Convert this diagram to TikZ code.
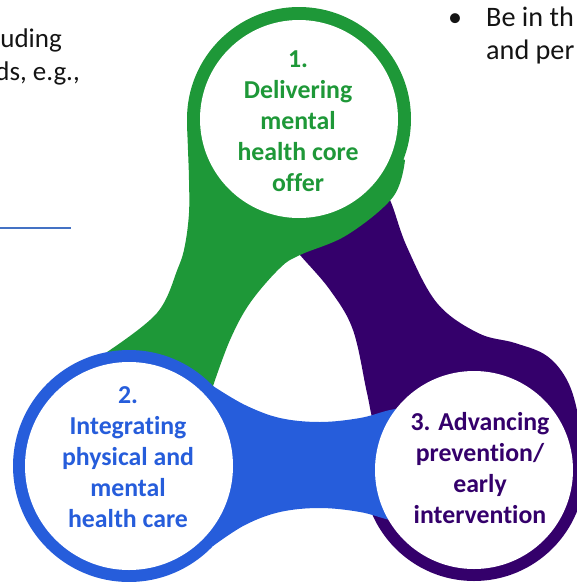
\documentclass[tikz,border=0pt]{standalone}
\usepackage{fontspec}
\setmainfont{Carlito}[Ligatures={NoCommon}]
\definecolor{cgreen}{RGB}{30,152,56}
\definecolor{cblue}{RGB}{38,93,219}
\definecolor{cpurple}{RGB}{52,0,107}
\definecolor{linkblue}{RGB}{68,114,196}
\definecolor{bodyink}{RGB}{20,20,20}
\begin{document}
\begin{tikzpicture}[x=1pt,y=-1pt,
  bodytext/.style={font=\fontsize{27}{33}\selectfont, inner sep=0pt, text=bodyink},
  righttext/.style={font=\fontsize{28.2}{33}\selectfont, inner sep=0pt, text=bodyink},
  bullettext/.style={font=\fontsize{28}{33}\selectfont, inner sep=0pt, text=bodyink},
  circtext/.style={font=\fontsize{25.8}{31}\selectfont\bfseries, align=center, inner sep=0pt},
  smoothedge/.style={smooth, tension=0.6}]
\useasboundingbox (0,0) rectangle (577,582);
\coordinate (c1) at (299,119);
\coordinate (c2) at (129,466);
\coordinate (c3) at (474,470);
% purple band (3 -> 1)
\fill[cpurple] (c1) -- plot[smoothedge] coordinates {(290,242) (300,255) (330,290) (353,330) (367,393) (375,425) (395,450)} -- (c3) -- plot[smoothedge] coordinates {(584,465) (579,420) (568,382) (547,356) (515,343) (478,333) (437,303) (407,247) (390,200) (375,178)} -- cycle;
% green band (1 -> 2)
\fill[cgreen] (c1) -- plot[smoothedge] coordinates {(187,125) (188,150) (189,180) (189,213) (185,245) (178,268) (157,313) (107,352)} -- (c2) -- plot[smoothedge] coordinates {(213,386) (230,340) (250,303) (280,268) (300,255) (347,235) (393,197) (405,160)} -- cycle;
% outer rings
\fill[cgreen] (c1) circle[radius=112pt];
\fill[cblue] (c2) circle[radius=116pt];
\fill[cpurple] (c3) circle[radius=111pt];
% blue band (2 -> 3)
\fill[cblue] (c2) -- plot[smoothedge] coordinates {(213,386) (245,405) (280,418) (320,422) (360,418) (390,410) (420,405)} -- plot[smoothedge] coordinates {(420,525) (390,520) (360,512) (320,508) (280,512) (245,525) (213,546)} -- cycle;
% inner discs
\fill[white] (c1) circle[radius=99pt];
\fill[white] (c2) circle[radius=104pt];
\fill[white] (c3) circle[radius=99pt];
% circle texts
\node[circtext, text=cgreen] (t1) at (298,121.5) {1.\\Delivering\\mental\\health core\\offer};
\node[circtext, text=cblue] (t2) at (128,457.5) {2.\\Integrating\\physical and\\mental\\health care};
\node[circtext, text=cpurple] (t3) at (480,468) {3. Advancing\\prevention/\\early\\intervention};
% side texts
\node[bodytext, anchor=base east] (l1) at (62,47) {uding};
\node[bodytext, anchor=base east] (l2) at (80,80) {ds, e.g.,};
\node[bullettext, anchor=base] (bul) at (455,26) {•};
\node[righttext, anchor=base west] (r1) at (486,26) {Be in th};
\node[righttext, anchor=base west] (r2) at (486,59) {and per};
\coordinate (ul1) at (0,228);
\coordinate (ul2) at (71,228);
\draw[linkblue, line width=1.3pt] (ul1) -- (ul2);
\end{tikzpicture}
\end{document}
